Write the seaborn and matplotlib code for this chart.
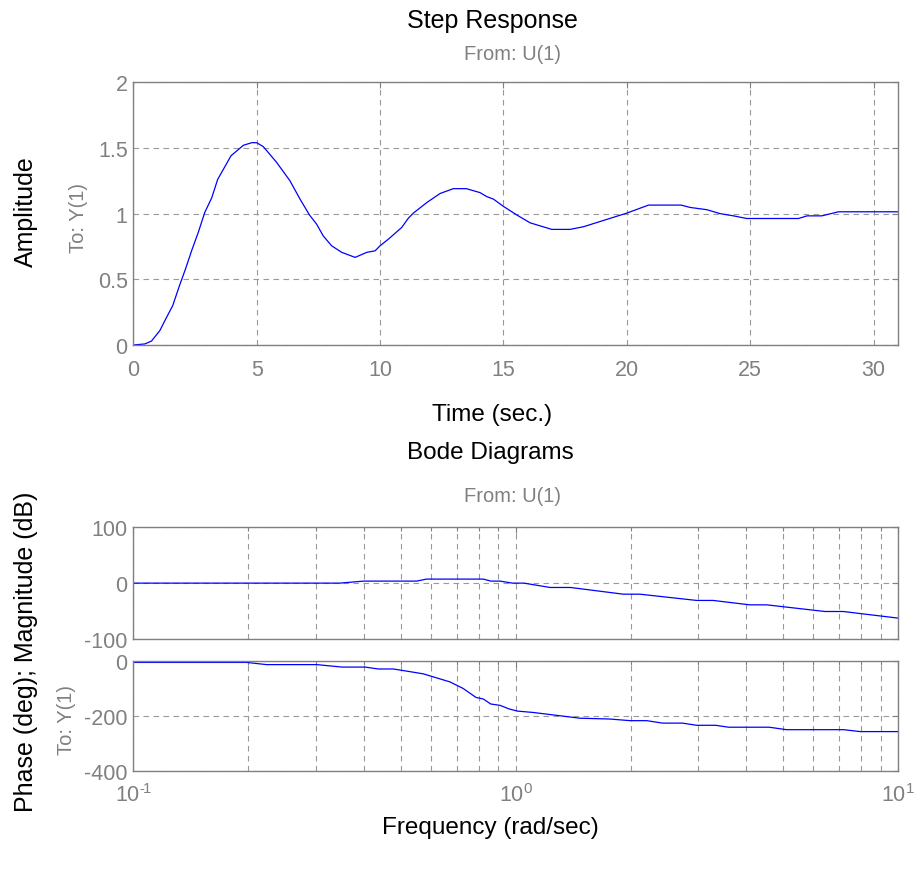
import matplotlib
matplotlib.use("Agg")
import matplotlib.pyplot as plt
import seaborn as sns
import pandas as pd
from matplotlib.ticker import FixedLocator, LogLocator, NullFormatter

# ---------------- data ----------------
t_step = [0, 0.47, 0.74, 1.08, 1.28, 1.6, 1.87, 2.12, 2.37, 2.64, 2.9, 3.18, 3.42, 3.96,
          4.46, 4.8, 5.0, 5.27, 5.81, 6.35, 6.76, 7.14, 7.43, 7.7, 8.04, 8.45, 8.99, 9.46,
          9.8, 10.0, 10.34, 10.88, 11.15, 11.35, 11.9, 12.43, 12.97, 13.5, 14.05, 14.32,
          14.6, 15.0, 15.54, 16.08, 16.96, 17.7, 18.24, 20.0, 20.88, 22.2, 22.57, 23.24,
          23.78, 24.32, 24.86, 26.96, 27.3, 27.9, 28.58, 31.0]
amp_step = [0, 0.008, 0.03, 0.11, 0.185, 0.30, 0.45, 0.58, 0.72, 0.86, 1.01, 1.12, 1.26,
            1.44, 1.52, 1.54, 1.54, 1.51, 1.39, 1.25, 1.11, 0.99, 0.92, 0.83, 0.755, 0.705,
            0.667, 0.705, 0.717, 0.755, 0.806, 0.895, 0.966, 1.004, 1.085, 1.153, 1.19, 1.19,
            1.16, 1.13, 1.11, 1.055, 0.99, 0.93, 0.88, 0.88, 0.90, 1.004, 1.065, 1.065,
            1.047, 1.03, 1.0, 0.983, 0.963, 0.963, 0.983, 0.983, 1.014, 1.014]

f_mag = [0.1, 0.347, 0.40, 0.551, 0.584, 0.823, 0.86, 0.91, 0.98, 1.05, 1.23, 1.39, 1.91,
         2.11, 2.97, 3.28, 4.09, 4.53, 6.43, 7.18, 10]
mag_db = [0, 0, 3.6, 3.6, 7.2, 7.2, 3.6, 3.6, 0, 0, -7.8, -7.8, -19.8, -19.8, -31, -31,
          -38.9, -38.9, -50.8, -50.8, -62.7]

f_phase = [0.1, 0.198, 0.223, 0.302, 0.351, 0.404, 0.437, 0.479, 0.541, 0.574, 0.672, 0.728,
           0.787, 0.823, 0.86, 0.91, 0.96, 1.01, 1.11, 1.47, 1.76, 1.99, 2.2, 2.42, 2.73,
           2.97, 3.33, 3.6, 4.6, 5.1, 7.2, 7.95, 10]
phase_deg = [-4, -4, -12, -12, -21, -21, -28, -28, -40, -46, -75, -99, -132, -138, -156,
             -161, -174, -182, -187, -208, -211, -217, -217, -226, -226, -234, -234, -241,
             -241, -250, -250, -257, -257]

step_xticks = [0, 5, 10, 15, 20, 25, 30]
step_yticks = [0, 0.5, 1, 1.5, 2]
step_yticklabels = ["0", "0.5", "1", "1.5", "2"]
mag_yticks = [-100, 0, 100]
phase_yticks = [-400, -200, 0]
freq_ticks = [0.1, 1, 10]
freq_ticklabels = ["$10^{\u2010\\!1}$", "$10^{0}$", "$10^{1}$"]

# ---------------- style ----------------
sns.set_theme(style="white")
plt.rcParams['font.family'] = ['Liberation Sans', 'DejaVu Sans']
plt.rcParams['mathtext.fontset'] = 'custom'
plt.rcParams['mathtext.rm'] = 'Liberation Sans'
plt.rcParams['mathtext.it'] = 'Liberation Sans'
plt.rcParams['axes.unicode_minus'] = False

GRAY = '#808080'
LINE = '#0000ff'
TICKFS = 15.5
LABELFS = 17.5

fig = plt.figure(figsize=(9.17, 8.70), dpi=100)

def style_axes(ax, xpad=6):
    for s in ax.spines.values():
        s.set_color(GRAY)
        s.set_linewidth(1.0)
        s.set_visible(True)
    ax.tick_params(axis='both', which='both', direction='in', colors=GRAY,
                   labelcolor=GRAY, labelsize=TICKFS, top=True, right=True,
                   length=4, width=0.8, pad=4)
    ax.tick_params(axis='x', which='both', pad=xpad)
    ax.tick_params(axis='both', which='minor', length=3)
    ax.set_xlabel("")
    ax.set_ylabel("")
    if ax.get_legend() is not None:
        ax.get_legend().remove()

grid_kw = dict(color='#999999', linestyle=(0, (5, 4)), linewidth=0.8)

# ---- Step response ----
ax1 = fig.add_axes([0.1453, 0.6023, 0.8343, 0.3020])
df_step = pd.DataFrame({"t": t_step, "y": amp_step})
sns.lineplot(data=df_step, x="t", y="y", ax=ax1, color=LINE, linewidth=0.9,
             estimator=None, sort=False)
ax1.set_xlim(0, 31)
ax1.set_ylim(0, 2)
ax1.set_xticks(step_xticks)
ax1.set_yticks(step_yticks)
ax1.set_yticklabels(step_yticklabels)
ax1.grid(True, which='major', **grid_kw)
style_axes(ax1, xpad=10)

# ---- Bode magnitude ----
ax2 = fig.add_axes([0.1453, 0.2644, 0.8343, 0.1284])
df_mag = pd.DataFrame({"f": f_mag, "m": mag_db})
sns.lineplot(data=df_mag, x="f", y="m", ax=ax2, color=LINE, linewidth=0.9,
             estimator=None, sort=False)
ax2.set_xscale('log')
ax2.set_xlim(0.1, 10)
ax2.set_ylim(-100, 100)
ax2.set_yticks(mag_yticks)
ax2.xaxis.set_major_locator(FixedLocator(freq_ticks))
ax2.xaxis.set_minor_locator(LogLocator(base=10, subs=range(2, 10)))
ax2.xaxis.set_minor_formatter(NullFormatter())
ax2.set_xticklabels([])
ax2.grid(True, which='both', axis='x', **grid_kw)
ax2.grid(True, which='major', axis='y', **grid_kw)
style_axes(ax2)

# ---- Bode phase ----
ax3 = fig.add_axes([0.1453, 0.1130, 0.8343, 0.1257])
df_ph = pd.DataFrame({"f": f_phase, "p": phase_deg})
sns.lineplot(data=df_ph, x="f", y="p", ax=ax3, color=LINE, linewidth=0.9,
             estimator=None, sort=False)
ax3.set_xscale('log')
ax3.set_xlim(0.1, 10)
ax3.set_ylim(-400, 0)
ax3.set_yticks(phase_yticks)
ax3.xaxis.set_major_locator(FixedLocator(freq_ticks))
ax3.set_xticklabels(freq_ticklabels)
ax3.xaxis.set_minor_locator(LogLocator(base=10, subs=range(2, 10)))
ax3.xaxis.set_minor_formatter(NullFormatter())
ax3.grid(True, which='both', axis='x', **grid_kw)
ax3.grid(True, which='major', axis='y', **grid_kw)
style_axes(ax3, xpad=9)

# ---------------- texts ----------------
def ftext(px, py, s, **kw):
    fig.text(px / 917, 1 - py / 870, s, ha='center', va='center', **kw)

ftext(492, 21, "Step Response", fontsize=LABELFS + 0.5, color='black')
ftext(513, 55, "From: U(1)", fontsize=TICKFS - 1, color=GRAY)
ftext(492, 415, "Time (sec.)", fontsize=LABELFS, color='black')
ftext(26, 212, "Amplitude", fontsize=LABELFS + 0.5, color='black', rotation=90)
ftext(78, 218, "To: Y(1)", fontsize=TICKFS - 1, color=GRAY, rotation=90)

ftext(490, 453, "Bode Diagrams", fontsize=LABELFS, color='black')
ftext(513, 497, "From: U(1)", fontsize=TICKFS - 1, color=GRAY)
ftext(490, 828, "Frequency (rad/sec)", fontsize=LABELFS, color='black')
ftext(26, 652, "Phase (deg); Magnitude (dB)", fontsize=LABELFS + 0.5, color='black', rotation=90)
ftext(67, 720, "To: Y(1)", fontsize=TICKFS - 1, color=GRAY, rotation=90)

fig.savefig("out.png", dpi=100)
